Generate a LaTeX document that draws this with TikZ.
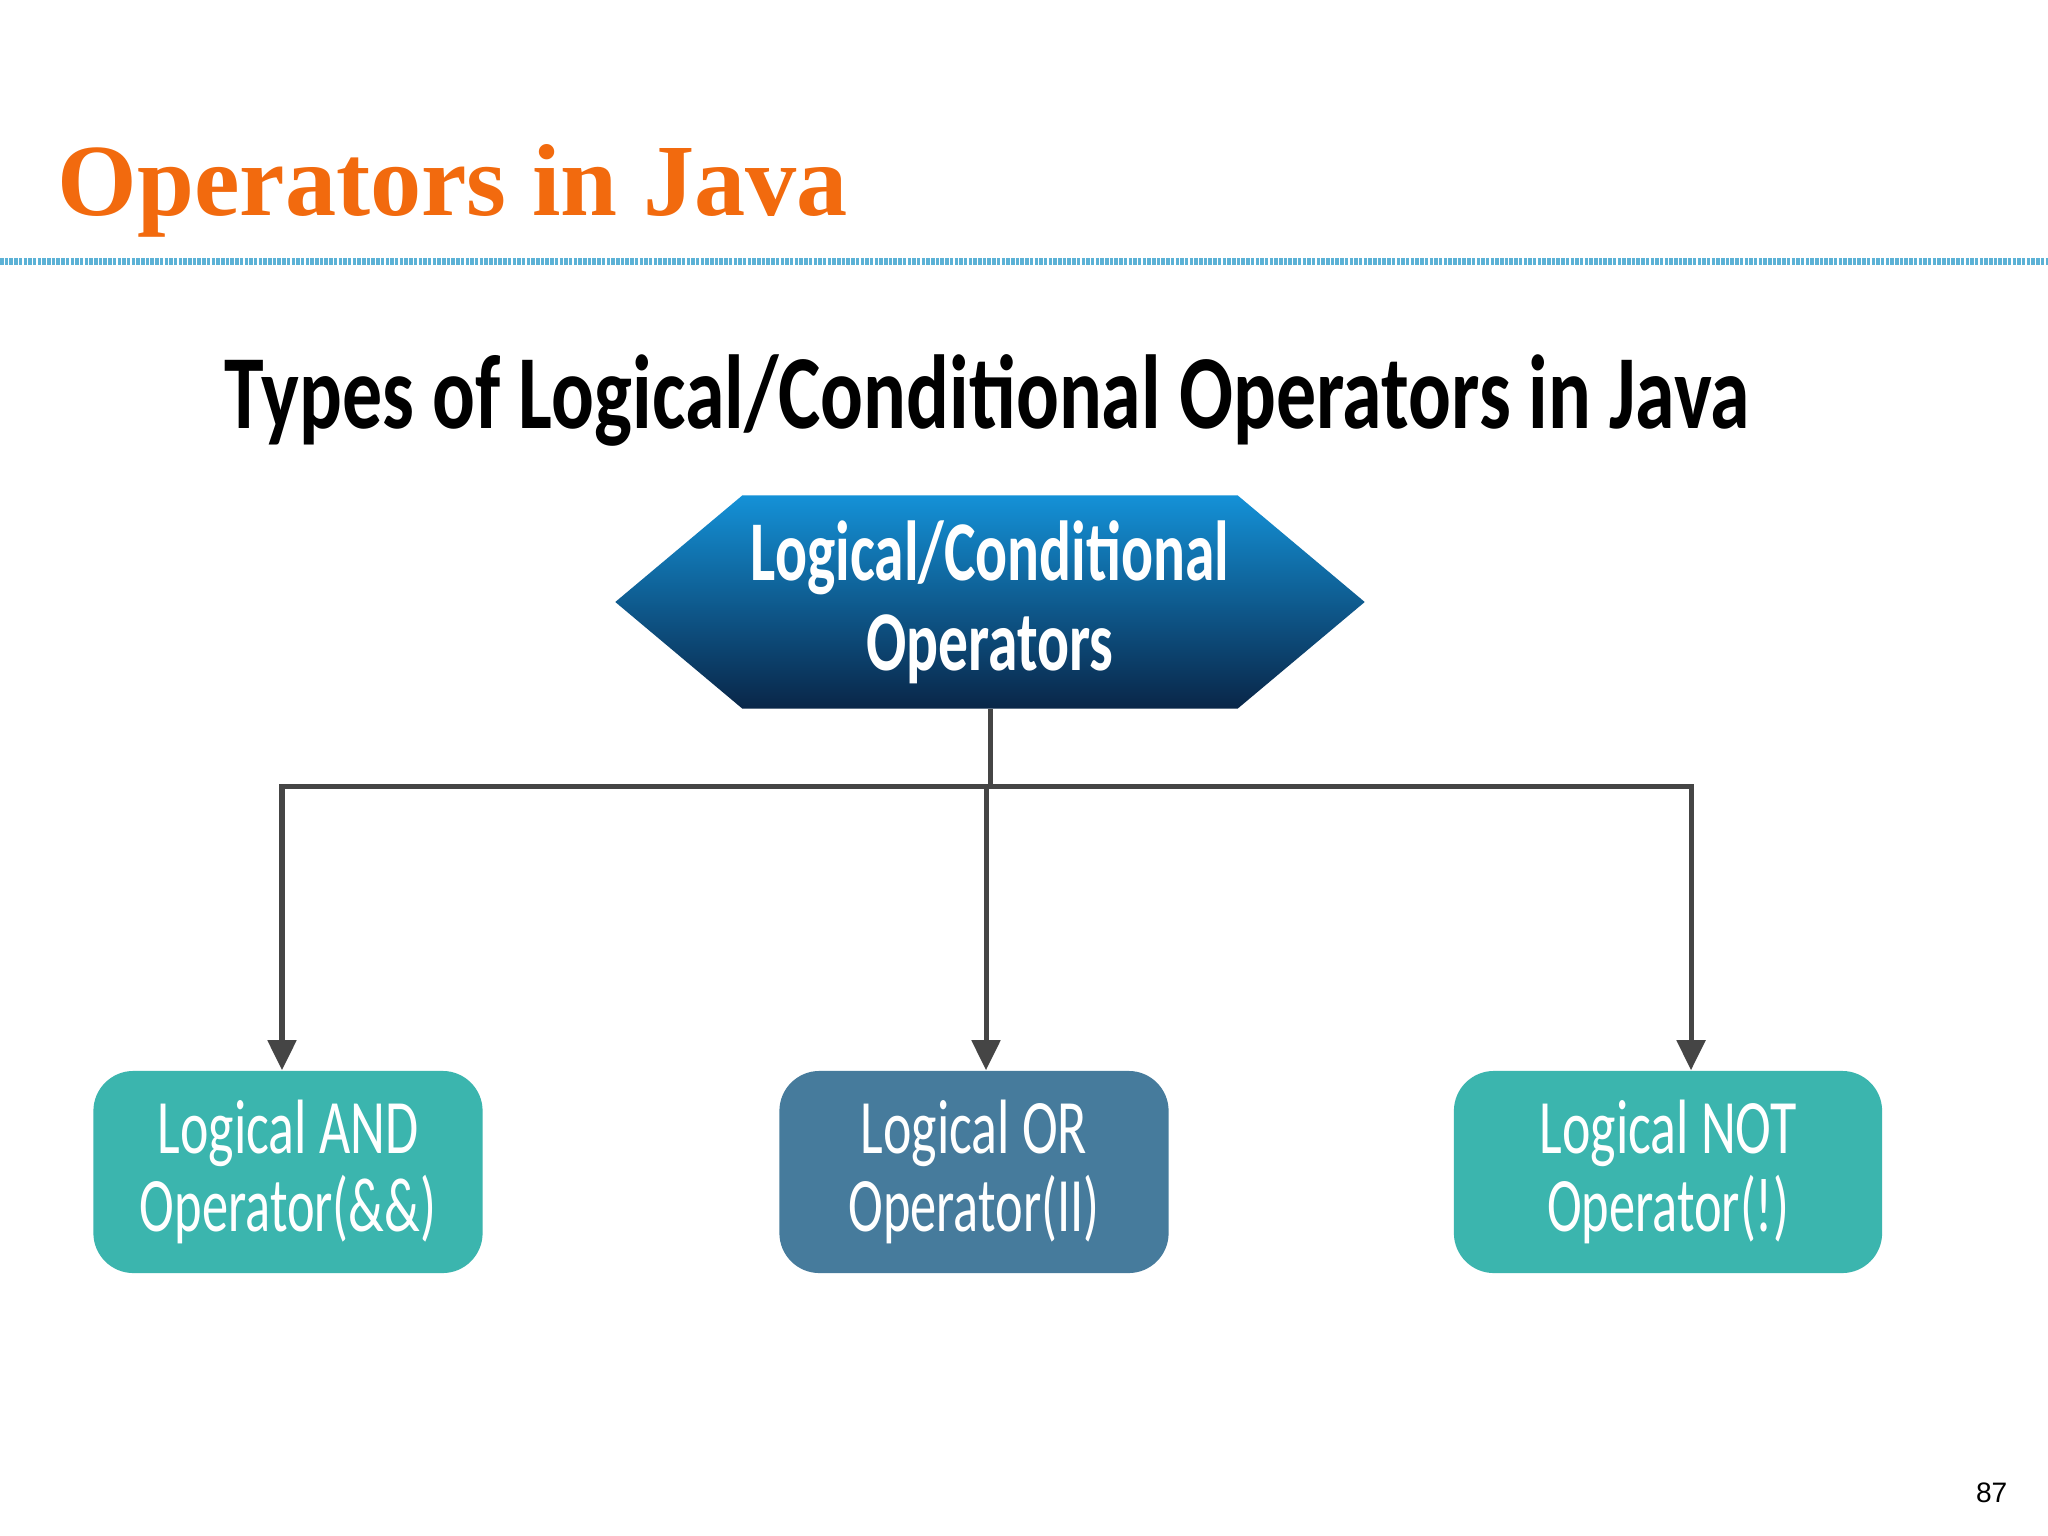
\documentclass[tikz,border=0pt]{standalone}
\usepackage{fontspec}
\usepackage{xcolor}
\usepackage{graphicx}
\usepackage{tikz}
\usetikzlibrary{positioning, shapes.symbols, arrows.meta}

\setmainfont{Carlito}
\newfontfamily\titolofont{Liberation Serif}
\newfontfamily\numerofont{Liberation Sans}

\definecolor{arancio}{RGB}{242,106,14}
\definecolor{riga}{RGB}{92,178,214}
\definecolor{esasu}{RGB}{20,145,215}
\definecolor{esagiu}{RGB}{9,38,72}
\definecolor{verde}{RGB}{59,181,174}
\definecolor{bluop}{RGB}{70,123,156}
\definecolor{filo}{RGB}{69,69,69}

\newcommand{\stretto}[2][0.7]{\scalebox{#1}[1]{#2}}

\begin{document}
\begin{tikzpicture}[x=0.01cm, y=-0.01cm,
    esagono/.style={signal, signal to=west and east, signal pointer angle=80,
        minimum width=7.49cm, minimum height=2.13cm, inner sep=0pt,
        top color=esasu, bottom color=esagiu, text=white, align=center,
        font=\fontsize{24.2}{25.6}\selectfont\bfseries},
    opbox/.style={rounded corners=0.4cm, minimum height=2.02cm, inner sep=0pt,
        text=white, align=center, font=\fontsize{21.9}{22.2}\selectfont},
    wire/.style={draw=filo, line width=0.05cm},
    freccia/.style={wire, -{Triangle[width=0.28cm,length=0.3cm]}}]

    % Sfondo
    \fill[white] (0,0) rectangle (2048,1536);
    \useasboundingbox (0,0) rectangle (2048,1536);

    % Titolo
    \node[anchor=base west, inner sep=0pt, text=arancio,
        font=\titolofont\bfseries\fontsize{29.1}{30}\selectfont] (titolo) at (57,215) {Operators in Java};
    \draw[riga, line width=0.07cm, dash pattern=on 0.035cm off 0.012cm] (0,261) -- (2048,261);

    \node[anchor=base west, inner sep=0pt,
        font=\bfseries\fontsize{29.9}{30}\selectfont] (sottotitolo) at (224,428)
        {\stretto[0.76]{Types of Logical/Conditional Operators in Java}};

    % Nodi
    \node[esagono] (logica) at (990,602) {\stretto{Logical/Conditional}\\\stretto{Operators}};

    \node[opbox, fill=verde, minimum width=3.89cm] (andop) at (288,1172)
        {\stretto{Logical AND}\\\stretto[0.68]{Operator(\&\&)}};
    \node[opbox, fill=bluop, minimum width=3.89cm] (orop) at (974,1172)
        {\stretto{Logical OR}\\\stretto[0.68]{Operator(II)}};
    \node[opbox, fill=verde, minimum width=4.28cm] (notop) at (1668,1172)
        {\stretto{Logical NOT}\\\stretto[0.68]{Operator(!)}};

    % Collegamenti
    \coordinate (livello) at (0,786);
    \coordinate (inand) at ([xshift=-0.06cm]andop.north);
    \coordinate (inor) at ([xshift=0.12cm]orop.north);
    \coordinate (innot) at ([xshift=0.23cm]notop.north);

    \draw[wire] (logica.south) -- (logica.south |- livello);
    \draw[freccia] (logica.south |- livello) -| (inand);
    \draw[freccia] (logica.south |- livello) -| (innot);
    \draw[freccia] (inor |- livello) -- (inor);

    % Numero pagina
    \node[anchor=base east, inner sep=0pt, font=\numerofont\fontsize{8}{9}\selectfont] (pagina) at (2008,1502) {87};
\end{tikzpicture}
\end{document}
